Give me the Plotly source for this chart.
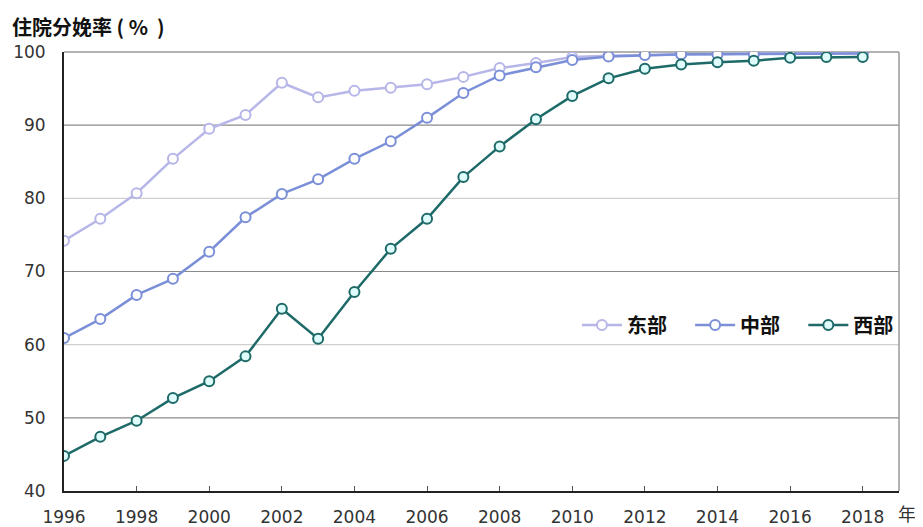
import plotly.graph_objects as go

years = list(range(1996, 2019))
east = [74.2, 77.2, 80.7, 85.4, 89.5, 91.4, 95.8, 93.8, 94.7, 95.1, 95.6, 96.6, 97.8, 98.5, 99.3,
        99.5, 99.6, 99.7, 99.8, 99.8, 99.8, 99.9, 99.9]
central = [60.9, 63.5, 66.8, 69.0, 72.7, 77.4, 80.6, 82.6, 85.4, 87.8, 91.0, 94.4, 96.8, 97.9, 98.9,
           99.4, 99.6, 99.7, 99.7, 99.7, 99.8, 99.8, 99.8]
west = [44.8, 47.4, 49.6, 52.7, 55.0, 58.4, 64.9, 60.8, 67.2, 73.1, 77.2, 82.9, 87.1, 90.8, 94.0,
        96.4, 97.7, 98.3, 98.6, 98.8, 99.2, 99.3, 99.3]
series_names = ["东部", "中部", "西部"]
x_ticks = list(range(1996, 2019, 2))
y_ticks = [40, 50, 60, 70, 80, 90, 100]
grid_dark = [90, 70, 50]
grid_light = [80, 60]

colors = ["#b6b6e8", "#7b8fd8", "#1d6a68"]
fills = ["#ffffff", "#ffffff", "#dffcfc"]
pad = "\u00a0" * 4

fig = go.Figure()
for name, vals, c, f in zip(series_names, [east, central, west], colors, fills):
    fig.add_trace(go.Scatter(
        x=years, y=vals, name=name + pad, mode="lines+markers",
        line=dict(color=c, width=2.5),
        marker=dict(symbol="circle", size=10, color=f, line=dict(color=c, width=2)),
    ))

shapes = []
for g in grid_dark:
    shapes.append(dict(type="line", xref="paper", yref="y", x0=0, x1=1, y0=g, y1=g,
                       line=dict(color="#8a8a8a", width=1.2), layer="below"))
for g in grid_light:
    shapes.append(dict(type="line", xref="paper", yref="y", x0=0, x1=1, y0=g, y1=g,
                       line=dict(color="#cfcfcf", width=1.2), layer="below"))
shapes.append(dict(type="line", xref="paper", yref="paper", x0=0, x1=1, y0=1, y1=1,
                   line=dict(color="#999999", width=1.5), layer="below"))
shapes.append(dict(type="line", xref="paper", yref="paper", x0=1, x1=1, y0=0, y1=1,
                   line=dict(color="#999999", width=1.5), layer="below"))

fig.update_layout(
    width=915, height=519,
    margin=dict(l=56, r=24, t=44, b=36, autoexpand=False),
    paper_bgcolor="white", plot_bgcolor="white",
    font=dict(family="DejaVu Sans, Noto Sans CJK SC", size=17, color="#333333"),
    shapes=shapes,
    xaxis=dict(range=[1996, 2019], tickvals=x_ticks, ticktext=[str(t) for t in x_ticks],
               showgrid=False, showline=True, linecolor="#222222", linewidth=2,
               ticks="inside", ticklen=5, tickcolor="#555555", zeroline=False,
               ticklabelstandoff=10, automargin=False,
               tickfont=dict(size=17, color="#333333")),
    yaxis=dict(range=[40, 100], tickvals=y_ticks, showgrid=False, showline=True,
               linecolor="#222222", linewidth=2, ticks="", zeroline=False,
               ticklabelstandoff=13, automargin=False,
               tickfont=dict(size=17, color="#333333")),
    legend=dict(orientation="h", x=1.0215, xanchor="right", y=0.378, yanchor="middle",
                bgcolor="rgba(0,0,0,0)",
                font=dict(family="Noto Sans CJK SC", size=20, color="#111111", weight="bold"),
                itemwidth=40, tracegroupgap=0),
    annotations=[
        dict(text="<b>住院分娩率 (\u00a0%\u00a0\u00a0)</b>", xref="paper", yref="paper", x=-0.065, y=1.057,
             xanchor="left", yanchor="middle", showarrow=False,
             font=dict(family="Noto Sans CJK SC", size=20, color="#111111")),
        dict(text="年", xref="paper", yref="paper", x=0.996, y=-0.05,
             xanchor="left", yanchor="middle", showarrow=False,
             font=dict(family="Noto Sans CJK SC", size=18, color="#333333")),
    ],
)

fig.write_html("out.html")
